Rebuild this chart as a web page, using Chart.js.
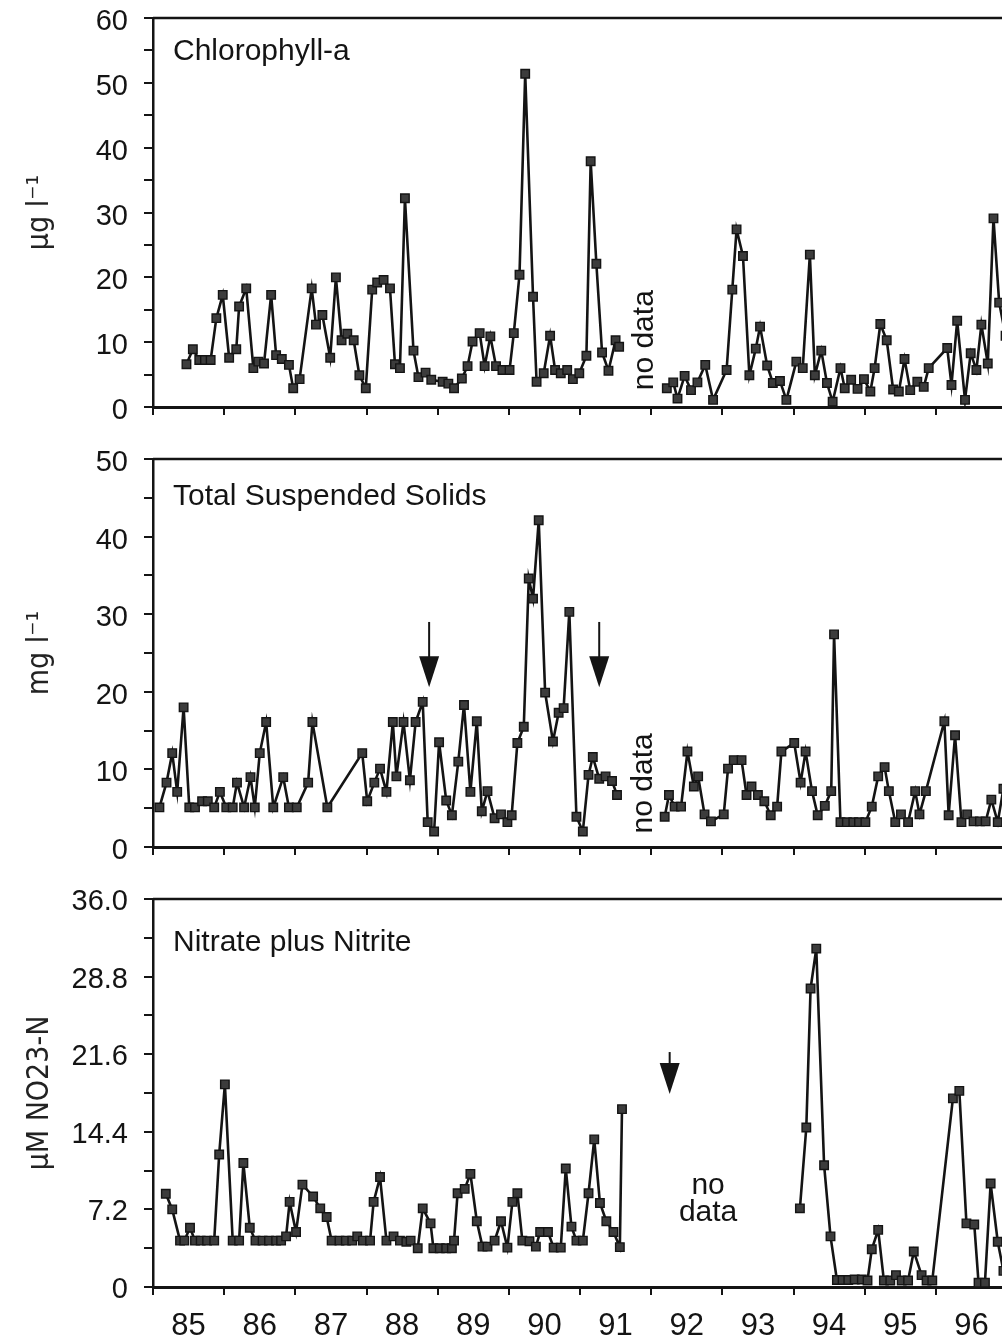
<!DOCTYPE html>
<html>
<head>
<meta charset="utf-8">
<script src="https://cdn.jsdelivr.net/npm/chart.js@4.4.1/dist/chart.umd.min.js"></script>
<style>
  html, body { margin: 0; padding: 0; background: #fff; }
  #wrap { position: relative; width: 1002px; height: 1342px; overflow: hidden; }
  #wrap canvas { position: absolute; left: 0; }
</style>
</head>
<body>
<div id="wrap">
  <canvas id="chl" width="1010" height="440" style="top:0px"></canvas>
  <canvas id="tss" width="1010" height="440" style="top:440px"></canvas>
  <canvas id="no3" width="1010" height="462" style="top:880px"></canvas>
</div>
<script>
// x tick labels (mid-year), tick marks fall on year boundaries
const yearLabels = ['85','86','87','88','89','90','91','92','93','94','95','96'];

const chlTickValues = [0, 10, 20, 30, 40, 50, 60];
const chlTickLabels = ['0', '10', '20', '30', '40', '50', '60'];
const tssTickValues = [0, 10, 20, 30, 40, 50];
const tssTickLabels = ['0', '10', '20', '30', '40', '50'];
const no3TickValues = [0, 7.2, 14.4, 21.6, 28.8, 36];
const no3TickLabels = ['0', '7.2', '14.4', '21.6', '28.8', '36.0'];

// [year, value]; null = break in the record
const chlData = [
  [85.47,6.6],[85.56,8.9],[85.65,7.25],[85.73,7.25],[85.81,7.25],[85.89,13.7],[85.98,17.3],[86.07,7.6],
  [86.17,8.9],[86.21,15.5],[86.31,18.3],[86.41,6.0],[86.48,7.0],[86.56,6.7],[86.66,17.3],[86.73,8.0],
  [86.81,7.4],[86.91,6.5],[86.97,2.9],[87.06,4.3],[87.23,18.3],[87.29,12.7],[87.38,14.2],[87.49,7.6],
  [87.57,20.0],[87.65,10.3],[87.73,11.3],[87.82,10.3],[87.90,4.9],[87.99,2.9],[88.08,18.1],[88.15,19.2],
  [88.24,19.6],[88.33,18.3],[88.40,6.6],[88.47,6.0],[88.54,32.2],[88.66,8.7],[88.73,4.6],[88.83,5.3],
  [88.91,4.2],[89.07,3.9],[89.15,3.6],[89.23,2.9],[89.34,4.4],[89.42,6.3],[89.49,10.1],[89.59,11.4],
  [89.66,6.3],[89.74,10.9],[89.82,6.3],[89.91,5.7],[90.01,5.7],[90.07,11.4],[90.15,20.4],[90.23,51.4],
  [90.34,17.0],[90.39,3.9],[90.49,5.2],[90.58,11.0],[90.65,5.7],[90.73,5.2],[90.82,5.7],[90.90,4.3],
  [90.99,5.2],[91.09,7.9],[91.15,37.9],[91.23,22.1],[91.31,8.4],[91.40,5.6],[91.50,10.3],[91.55,9.3],
  [91.9,null],
  [92.22,2.9],[92.31,3.8],[92.37,1.3],[92.47,4.8],[92.56,2.6],[92.65,3.8],[92.76,6.5],[92.87,1.1],
  [93.06,5.7],[93.14,18.1],[93.20,27.4],[93.29,23.3],[93.38,4.9],[93.47,9.0],[93.53,12.4],[93.63,6.4],
  [93.71,3.7],[93.81,4.0],[93.90,1.1],[94.04,7.0],[94.13,6.0],[94.23,23.5],[94.30,4.9],[94.39,8.7],
  [94.47,3.7],[94.55,0.8],[94.66,6.0],[94.72,2.9],[94.81,4.2],[94.90,2.8],[94.99,4.3],[95.08,2.4],
  [95.14,6.0],[95.22,12.8],[95.31,10.3],[95.40,2.7],[95.48,2.4],[95.56,7.4],[95.64,2.6],[95.74,3.9],
  [95.83,3.1],[95.90,6.0],[96.16,9.1],[96.22,3.4],[96.30,13.3],[96.41,1.1],[96.49,8.3],[96.57,5.7],
  [96.64,12.7],[96.73,6.7],[96.81,29.1],[96.89,16.1],[96.98,11.0]
];

const tssData = [
  [85.09,5.1],[85.19,8.3],[85.27,12.1],[85.34,7.1],[85.43,18.0],[85.51,5.1],[85.59,5.1],[85.69,5.9],
  [85.77,5.9],[85.86,5.1],[85.94,7.1],[86.03,5.1],[86.12,5.1],[86.18,8.3],[86.28,5.1],[86.37,9.0],
  [86.43,5.1],[86.50,12.1],[86.59,16.1],[86.69,5.1],[86.83,9.0],[86.91,5.1],[87.02,5.1],[87.18,8.3],
  [87.24,16.1],[87.45,5.1],[87.94,12.1],[88.01,5.9],[88.11,8.3],[88.19,10.1],[88.28,7.1],[88.37,16.1],
  [88.42,9.1],[88.52,16.1],[88.61,8.6],[88.69,16.1],[88.79,18.7],[88.86,3.2],[88.95,2.0],[89.02,13.5],
  [89.12,6.0],[89.20,4.1],[89.29,11.0],[89.37,18.3],[89.46,7.1],[89.55,16.2],[89.62,4.6],[89.70,7.2],
  [89.80,3.7],[89.89,4.2],[89.98,3.2],[90.04,4.1],[90.12,13.4],[90.21,15.5],[90.28,34.6],[90.34,32.0],
  [90.42,42.1],[90.51,19.9],[90.62,13.6],[90.70,17.3],[90.77,17.9],[90.85,30.3],[90.95,3.9],[91.04,2.0],
  [91.12,9.3],[91.18,11.6],[91.27,8.8],[91.36,9.1],[91.45,8.5],[91.52,6.7],
  [91.85,null],
  [92.19,3.9],[92.25,6.7],[92.33,5.2],[92.42,5.2],[92.51,12.3],[92.60,7.8],[92.66,9.1],[92.75,4.2],
  [92.84,3.3],[93.02,4.2],[93.08,10.1],[93.16,11.2],[93.27,11.2],[93.34,6.7],[93.41,7.8],[93.50,6.7],
  [93.59,5.9],[93.68,4.1],[93.77,5.2],[93.83,12.3],[94.01,13.4],[94.10,8.3],[94.17,12.3],[94.26,7.2],
  [94.34,4.1],[94.44,5.3],[94.53,7.2],[94.57,27.4],[94.66,3.2],[94.75,3.2],[94.84,3.2],[94.92,3.2],
  [95.01,3.2],[95.10,5.2],[95.19,9.1],[95.28,10.3],[95.34,7.2],[95.43,3.2],[95.51,4.2],[95.61,3.2],
  [95.71,7.2],[95.77,4.2],[95.86,7.2],[96.12,16.2],[96.18,4.1],[96.27,14.4],[96.36,3.2],[96.44,4.2],
  [96.53,3.3],[96.62,3.3],[96.70,3.3],[96.78,6.1],[96.87,3.2],[96.95,7.5]
];

const no3Data = [
  [85.18,8.65],[85.27,7.2],[85.38,4.3],[85.44,4.3],[85.52,5.5],[85.59,4.3],[85.67,4.3],[85.76,4.3],
  [85.86,4.3],[85.93,12.3],[86.01,18.8],[86.12,4.3],[86.21,4.3],[86.27,11.5],[86.36,5.5],[86.44,4.3],
  [86.54,4.3],[86.63,4.3],[86.73,4.3],[86.80,4.3],[86.87,4.7],[86.92,7.9],[87.01,5.1],[87.10,9.5],
  [87.25,8.4],[87.35,7.3],[87.44,6.5],[87.51,4.3],[87.62,4.3],[87.71,4.3],[87.80,4.3],[87.87,4.7],
  [87.95,4.3],[88.05,4.3],[88.10,7.9],[88.19,10.2],[88.28,4.3],[88.38,4.7],[88.47,4.3],[88.56,4.2],
  [88.62,4.3],[88.72,3.6],[88.79,7.3],[88.90,5.9],[88.94,3.6],[89.03,3.6],[89.12,3.6],[89.20,3.6],
  [89.23,4.3],[89.28,8.7],[89.38,9.1],[89.46,10.5],[89.55,6.1],[89.63,3.75],[89.70,3.75],[89.80,4.3],
  [89.89,6.1],[89.98,3.65],[90.05,7.9],[90.12,8.7],[90.19,4.3],[90.29,4.25],[90.38,3.75],[90.44,5.1],
  [90.55,5.1],[90.63,3.65],[90.73,3.65],[90.80,11.0],[90.88,5.6],[90.95,4.3],[91.04,4.3],[91.12,8.7],
  [91.20,13.7],[91.28,7.8],[91.37,6.1],[91.47,5.1],[91.56,3.7],[91.59,16.5],
  [92.5,null],
  [94.09,7.3],[94.18,14.8],[94.24,27.7],[94.32,31.4],[94.43,11.3],[94.52,4.7],[94.61,0.65],[94.69,0.65],
  [94.77,0.65],[94.86,0.7],[94.96,0.7],[95.04,0.6],[95.10,3.5],[95.19,5.3],[95.27,0.6],[95.36,0.6],
  [95.44,1.1],[95.52,0.6],[95.61,0.6],[95.69,3.3],[95.80,1.1],[95.87,0.6],[95.95,0.6],[96.24,17.5],
  [96.33,18.2],[96.43,5.9],[96.54,5.8],[96.60,0.4],[96.69,0.4],[96.77,9.6],[96.87,4.2],[96.95,1.5]
];

const INK = '#141414';
const SANS = '"Liberation Sans", Arial, Helvetica, sans-serif';
const NARROW = '"Liberation Sans Narrow", "DejaVu Sans Condensed", "Liberation Sans", sans-serif';

// titles inside the plot, "no data" notes, arrows and the top frame line
const panelText = {
  id: 'panelText',
  afterDraw(chart, args, o) {
    const { ctx, chartArea: a, scales: { x, y } } = chart;
    ctx.save();
    ctx.strokeStyle = INK;
    ctx.fillStyle = INK;
    ctx.lineWidth = 2.5;
    ctx.beginPath();
    ctx.moveTo(a.left, a.top);
    ctx.lineTo(a.right, a.top);
    ctx.stroke();

    ctx.font = '30px ' + SANS;
    ctx.textBaseline = 'alphabetic';
    ctx.textAlign = 'left';
    ctx.fillText(o.title, a.left + 20, a.top + o.titleDy);

    (o.notes || []).forEach(n => {
      ctx.save();
      ctx.translate(x.getPixelForValue(n.x), y.getPixelForValue(n.y));
      if (n.vertical) ctx.rotate(-Math.PI / 2);
      ctx.textAlign = 'center';
      ctx.textBaseline = 'middle';
      ctx.fillText(n.text, 0, 0);
      ctx.restore();
    });

    (o.arrows || []).forEach(ar => {
      const px = x.getPixelForValue(ar.x);
      const y0 = y.getPixelForValue(ar.from);
      const y1 = y.getPixelForValue(ar.to);
      ctx.lineWidth = 2;
      ctx.beginPath();
      ctx.moveTo(px, y0);
      ctx.lineTo(px, y1 - 26);
      ctx.stroke();
      ctx.beginPath();
      ctx.moveTo(px - 10, y1 - 31);
      ctx.lineTo(px + 10, y1 - 31);
      ctx.lineTo(px, y1);
      ctx.closePath();
      ctx.fill();
    });
    ctx.restore();
  }
};

function withMinor(vals) {
  const out = [];
  vals.forEach((v, i) => {
    if (i > 0) out.push((vals[i - 1] + v) / 2);
    out.push(v);
  });
  return out;
}

function panel(id, p) {
  const yTicks = withMinor(p.tickValues);
  return new Chart(document.getElementById(id), {
    type: 'line',
    data: {
      datasets: [{
        data: p.data,
        borderColor: INK,
        borderWidth: 2.6,
        tension: 0,
        spanGaps: false,
        pointStyle: 'rect',
        pointRadius: 6,
        pointBackgroundColor: '#3c3c3c',
        pointBorderColor: INK,
        pointBorderWidth: 1.4
      }]
    },
    options: {
      responsive: false,
      animation: false,
      events: [],
      layout: { autoPadding: false, padding: { top: p.top, right: 3, left: 0, bottom: 0 } },
      plugins: {
        legend: { display: false },
        tooltip: { enabled: false },
        panelText: { title: p.title, titleDy: p.titleDy, notes: p.notes, arrows: p.arrows }
      },
      scales: {
        x: {
          type: 'linear', min: 85, max: 97,
          afterBuildTicks: s => {
            s.ticks = [];
            for (let i = 0; i <= 24; i++) s.ticks.push({ value: 85 + i / 2 });
          },
          afterFit: s => {
            s.height = p.xHeight;
            s.paddingLeft = 0;
            s.paddingRight = 0;
          },
          grid: {
            drawOnChartArea: false, drawTicks: true, tickLength: 8, lineWidth: 2,
            color: c => (c.tick && c.tick.value % 1 === 0) ? INK : 'rgba(0,0,0,0)'
          },
          border: { color: INK, width: 3 },
          ticks: {
            autoSkip: false, maxRotation: 0, padding: 13,
            color: INK, font: { family: SANS, size: 31 },
            callback: (v, i) => (p.showYears && i % 2 === 1) ? yearLabels[(i - 1) / 2] : ''
          }
        },
        y: {
          min: 0, max: p.tickValues[p.tickValues.length - 1],
          afterBuildTicks: s => { s.ticks = yTicks.map(v => ({ value: v })); },
          afterFit: s => {
            s.width = 153;
            s.paddingTop = 0;
            s.paddingBottom = 0;
          },
          grid: { drawOnChartArea: false, tickLength: 9, lineWidth: 2, color: INK },
          border: { color: INK, width: 2.5 },
          ticks: {
            autoSkip: false, padding: 16, labelOffset: p.labelOffset,
            color: INK, font: { family: SANS, size: 29 },
            callback: (v, i) => i % 2 === 0 ? p.tickLabels[i / 2] : ''
          },
          title: {
            display: true, text: p.unit, color: '#222',
            font: { family: NARROW, size: 30 },
            padding: { top: 22, bottom: 0 }
          }
        }
      }
    },
    plugins: [panelText]
  });
}

panel('chl', {
  data: chlData, tickValues: chlTickValues, tickLabels: chlTickLabels,
  top: 18, xHeight: 33, labelOffset: 4, showYears: false,
  unit: 'µg l⁻¹', title: 'Chlorophyll-a', titleDy: 42,
  notes: [{ text: 'no data', x: 91.91, y: 10.3, vertical: true }]
});

panel('tss', {
  data: tssData, tickValues: tssTickValues, tickLabels: tssTickLabels,
  top: 19, xHeight: 33, labelOffset: 4, showYears: false,
  unit: 'mg l⁻¹', title: 'Total Suspended Solids', titleDy: 46,
  notes: [{ text: 'no data', x: 91.9, y: 8.2, vertical: true }],
  arrows: [{ x: 88.88, from: 29.0, to: 20.6 }, { x: 91.27, from: 29.0, to: 20.6 }]
});

panel('no3', {
  data: no3Data, tickValues: no3TickValues, tickLabels: no3TickLabels,
  top: 19, xHeight: 55, labelOffset: 3, showYears: true,
  unit: 'µM NO23-N', title: 'Nitrate plus Nitrite', titleDy: 52,
  notes: [{ text: 'no', x: 92.8, y: 9.4 }, { text: 'data', x: 92.8, y: 6.9 }],
  arrows: [{ x: 92.26, from: 21.8, to: 17.9 }]
});
</script>
</body>
</html>
